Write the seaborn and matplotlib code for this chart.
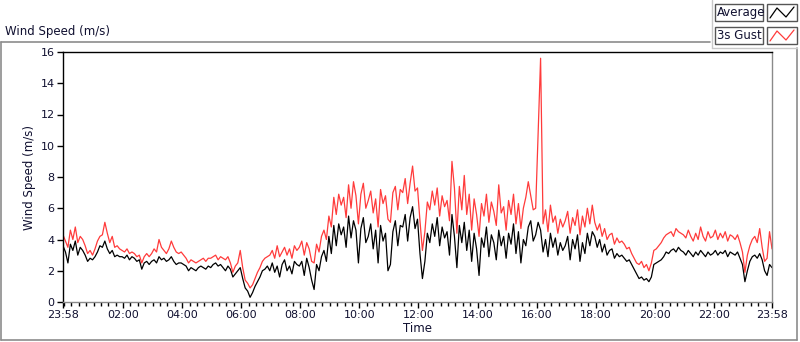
import matplotlib
matplotlib.use("Agg")
import matplotlib.pyplot as plt
from matplotlib.patches import Rectangle
from matplotlib.lines import Line2D
import seaborn as sns
import numpy as np
import pandas as pd

# readings every 5 min, starting at 23:58, one row per hour
AVERAGE = [
    3.6, 3.2, 2.5, 3.7, 3.3, 3.9, 3.0, 3.5, 3.3, 3.0, 2.6, 2.8,
    2.7, 2.9, 3.2, 3.6, 3.5, 3.9, 3.4, 3.1, 3.3, 2.9, 3.0, 2.9,
    2.9, 2.8, 3.0, 2.7, 2.9, 2.8, 2.6, 2.7, 2.1, 2.5, 2.6, 2.4,
    2.6, 2.7, 2.5, 2.9, 2.7, 2.8, 2.6, 2.7, 2.9, 2.6, 2.4, 2.5,
    2.5, 2.4, 2.3, 2.0, 2.2, 2.1, 2.0, 2.2, 2.3, 2.2, 2.1, 2.3,
    2.2, 2.4, 2.5, 2.3, 2.4, 2.2, 2.0, 2.3, 2.1, 1.6, 1.8, 2.0,
    2.2, 1.5, 0.9, 0.7, 0.3, 0.6, 1.0, 1.3, 1.6, 2.0, 2.1, 2.3,
    2.0, 2.5, 1.9, 2.3, 1.6, 2.4, 2.7, 2.0, 2.3, 1.8, 2.6, 2.4,
    2.3, 2.6, 1.7, 2.8, 2.2, 1.4, 0.8, 2.4, 2.0, 2.9, 3.3, 2.6,
    4.2, 3.1, 4.9, 3.6, 5.0, 4.3, 4.8, 3.5, 5.5, 4.1, 5.2, 4.6,
    2.5, 4.7, 5.4, 3.8, 4.2, 5.0, 3.4, 4.6, 2.5, 4.9, 3.9, 4.4,
    2.0, 2.4, 4.5, 5.2, 3.6, 4.9, 4.8, 5.6, 3.9, 5.4, 6.1, 4.7,
    5.3, 3.1, 1.5, 2.6, 4.4, 3.8, 5.0, 4.2, 5.4, 3.6, 4.8, 4.1,
    4.5, 3.0, 5.6, 4.2, 2.2, 4.9, 3.8, 5.1, 3.3, 4.6, 2.6, 4.4,
    3.4, 1.7, 4.1, 3.5, 4.8, 2.9, 4.3, 3.8, 2.7, 4.6, 3.6, 4.2,
    2.8, 4.4, 3.7, 5.0, 3.1, 4.5, 2.5, 4.0, 3.6, 4.8, 5.2, 3.9,
    4.3, 5.1, 4.6, 3.2, 4.0, 2.9, 4.4, 3.5, 4.1, 3.0, 3.8, 3.3,
    3.6, 4.2, 2.7, 4.0, 3.4, 4.3, 2.6, 3.8, 3.1, 4.4, 3.6, 4.5,
    4.2, 3.5, 4.0, 3.2, 3.7, 3.0, 3.3, 3.4, 2.8, 3.1, 2.9, 3.0,
    2.8, 2.6, 2.7, 2.4, 2.1, 1.8, 1.5, 1.6, 1.4, 1.5, 1.3, 1.6,
    2.4, 2.5, 2.6, 2.7, 2.9, 3.2, 3.1, 3.3, 3.4, 3.2, 3.5, 3.3,
    3.2, 3.0, 3.3, 3.1, 2.9, 3.2, 3.0, 3.3, 3.1, 2.9, 3.2, 3.0,
    3.1, 3.3, 3.0, 3.2, 3.1, 3.3, 2.9, 3.2, 3.1, 3.0, 3.2, 2.8,
    2.4, 1.3, 2.0, 2.6, 2.9, 3.0, 2.8, 3.1, 2.7, 2.0, 1.7, 2.4,
    2.2,
]
GUST_3S = [
    4.3, 3.9, 3.5, 4.6, 4.0, 4.8, 3.8, 4.2, 4.0, 3.6, 3.1, 3.3,
    3.0, 3.4, 3.9, 4.2, 4.3, 5.1, 4.4, 3.8, 4.2, 3.5, 3.6, 3.4,
    3.3, 3.2, 3.4, 3.1, 3.2, 3.1, 2.9, 3.0, 2.5, 2.9, 3.1, 2.9,
    3.1, 3.4, 3.2, 4.0, 3.5, 3.3, 3.1, 3.4, 3.9, 3.5, 3.2, 3.1,
    3.2, 3.0, 2.8, 2.5, 2.7, 2.6, 2.5, 2.6, 2.7, 2.8, 2.6, 2.8,
    2.8, 2.9, 3.0, 2.7, 2.9, 2.8, 2.7, 2.9, 2.5, 1.9, 2.3, 2.5,
    3.3, 2.2, 1.4, 1.2, 0.9, 1.1, 1.5, 1.9, 2.2, 2.6, 2.8, 2.9,
    3.0, 3.3, 2.8, 3.6, 2.9, 3.2, 3.5, 3.0, 3.4, 2.8, 3.6, 3.3,
    3.5, 3.9, 3.0, 3.8, 3.4, 2.6, 2.5, 3.7, 3.2, 4.2, 4.6, 4.0,
    5.5, 4.8, 6.7, 5.6, 6.9, 6.2, 6.7, 5.4, 7.5, 6.0, 7.7, 6.8,
    5.0, 6.9, 7.6, 6.0, 6.5, 7.1, 5.7, 6.6, 4.8, 7.2, 6.3, 6.8,
    5.3, 5.1, 7.0, 7.4, 5.9, 7.2, 7.0, 7.9, 6.3, 7.6, 8.7, 7.1,
    7.3, 5.2, 3.3, 4.5, 6.4, 5.9, 7.1, 6.2, 7.3, 5.5, 6.8, 6.1,
    6.5, 5.2, 9.0, 7.3, 4.4, 7.4, 5.9, 8.1, 5.6, 6.9, 4.6, 6.6,
    5.6, 4.2, 6.3, 5.5, 6.9, 5.1, 6.4, 5.8, 4.9, 7.5, 5.7, 6.1,
    4.6, 6.5, 5.6, 6.9, 5.0, 6.3, 4.7, 6.0, 6.7, 7.7, 6.8, 5.9,
    6.0, 10.7, 15.6, 5.0, 5.9, 4.5, 6.2, 5.1, 5.5, 4.4, 5.3, 4.8,
    5.2, 5.8, 4.4, 5.4, 4.9, 5.9, 4.3, 5.5, 4.8, 6.0, 5.0, 6.2,
    5.1, 4.6, 5.0, 4.2, 4.7, 4.0, 4.3, 4.4, 3.7, 4.1, 3.8, 3.9,
    3.7, 3.4, 3.5, 3.1, 2.8, 2.5, 2.4, 2.6, 2.2, 2.4, 2.0, 2.5,
    3.3, 3.4, 3.6, 3.8, 4.1, 4.3, 4.4, 4.5, 4.2, 4.7, 4.5, 4.4,
    4.3, 4.1, 4.6, 4.2, 3.9, 4.4, 4.0, 4.8, 4.2, 3.9, 4.5, 4.1,
    4.2, 4.6, 4.0, 4.4, 4.1, 4.5, 3.9, 4.3, 4.2, 4.0, 4.3, 3.8,
    3.2, 1.9, 3.0, 3.6, 4.0, 4.2, 3.8, 4.7, 3.5, 2.6, 2.8, 4.5,
    3.4,
]
STEP_MIN = 5
X_TICK_MIN = [0, 122, 242, 362, 482, 602, 722, 842, 962, 1082, 1202, 1322, 1440]
X_TICK_LABELS = ['23:58', '02:00', '04:00', '06:00', '08:00', '10:00', '12:00',
                 '14:00', '16:00', '18:00', '20:00', '22:00', '23:58']
Y_TICKS = [0, 2, 4, 6, 8, 10, 12, 14, 16]

minutes = np.arange(len(AVERAGE)) * STEP_MIN
df = pd.DataFrame({'Minute': minutes, 'Average': AVERAGE, '3s Gust': GUST_3S})
long = df.melt(id_vars='Minute', var_name='Series', value_name='Speed')

sns.set_theme(style='white')
plt.rcParams['font.family'] = ['DejaVu Sans']
TXT = '#101030'
RED = '#FF3B3B'

fig = plt.figure(figsize=(8, 3.42), dpi=100)
ax = fig.add_axes([63 / 800, 1 - 302 / 342, 709 / 800, 250 / 342])

sns.lineplot(data=long, x='Minute', y='Speed', hue='Series',
             palette={'Average': 'black', '3s Gust': RED},
             hue_order=['Average', '3s Gust'],
             linewidth=0.9, ax=ax, legend=False)

ax.set_xlim(0, 1440)
ax.set_ylim(0, 16)
ax.set_xticks(X_TICK_MIN)
ax.set_xticklabels(X_TICK_LABELS)
ax.set_xticks(np.arange(2, 1440, 15), minor=True)
ax.set_yticks(Y_TICKS)
ax.tick_params(axis='both', which='major', direction='out', length=4, width=1,
               color='black', labelsize=8, labelcolor=TXT, pad=2, bottom=True, left=True)
ax.tick_params(axis='x', which='minor', direction='out', length=3, width=1,
               color='black', bottom=True)
ax.set_xlabel('Time', fontsize=8.5, color=TXT, labelpad=1)
ax.set_ylabel('Wind Speed (m/s)', fontsize=8.5, color=TXT, labelpad=3)
ax.grid(False)
for side, col in [('top', 'black'), ('left', 'black'), ('bottom', '#8a8a8a'), ('right', '#8a8a8a')]:
    ax.spines[side].set_visible(True)
    ax.spines[side].set_color(col)
    ax.spines[side].set_linewidth(1)

# outer panel frame
W, H = 800, 342
def fx(px): return px / W
def fy(py): return 1 - py / H
frame = dict(color='#8c8c8c', lw=1.2, transform=fig.transFigure)
fig.add_artist(Line2D([fx(1), fx(1)], [fy(42), fy(340)], **frame))
fig.add_artist(Line2D([fx(1), fx(710)], [fy(42), fy(42)], **frame))
fig.add_artist(Line2D([fx(1), fx(797)], [fy(340), fy(340)], **frame))
fig.add_artist(Line2D([fx(797), fx(797)], [fy(48), fy(340)], **frame))
fig.add_artist(Line2D([fx(712), fx(712)], [fy(0), fy(48)], color='#c8c8c8', lw=1, transform=fig.transFigure))
fig.add_artist(Line2D([fx(712), fx(797)], [fy(48), fy(48)], color='#c8c8c8', lw=1, transform=fig.transFigure))

fig.text(fx(5), fy(32), 'Wind Speed (m/s)', fontsize=8.5, color=TXT, va='center', ha='left')

# legend boxes
for i, (name, col) in enumerate([('Average', 'black'), ('3s Gust', RED)]):
    top = 4 + i * 23
    fig.add_artist(Rectangle((fx(715), fy(top + 17)), fx(48), 17 / H, transform=fig.transFigure,
                             facecolor='white', edgecolor='#555555', lw=1))
    fig.text(fx(717), fy(top + 8.5), name, fontsize=8.5, color=TXT, va='center', ha='left')
    fig.add_artist(Rectangle((fx(767), fy(top + 17)), fx(30), 17 / H, transform=fig.transFigure,
                             facecolor='white', edgecolor='#555555', lw=1))
    fig.add_artist(Line2D([fx(x) for x in (770, 777, 786, 794)],
                          [fy(y) for y in (top + 14, top + 4, top + 13, top + 3)],
                          color=col, lw=0.9, transform=fig.transFigure))

fig.savefig('out.png', dpi=100, facecolor='white')
